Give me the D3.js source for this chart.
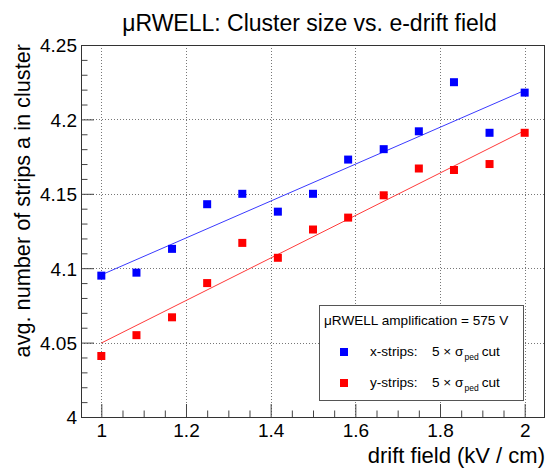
<!DOCTYPE html>
<html>
<head>
<meta charset="utf-8">
<script src="https://cdn.jsdelivr.net/npm/d3@7"></script>
<style>
  body { margin: 0; background: #fff; }
  text { font-family: "Liberation Sans", Arial, Helvetica, sans-serif; }
</style>
</head>
<body>
<svg id="chart" width="547" height="473"></svg>
<script>
// drift field values (kV / cm)
const driftField = [1, 1.083, 1.167, 1.25, 1.333, 1.417, 1.5, 1.583, 1.667, 1.75, 1.833, 1.917, 2];
// avg. cluster size, x-strips and y-strips
const xStrips = [4.095, 4.097, 4.113, 4.143, 4.150, 4.138, 4.150, 4.173, 4.180, 4.192, 4.225, 4.191, 4.218];
const yStrips = [4.041, 4.055, 4.067, 4.090, 4.117, 4.107, 4.126, 4.134, 4.149, 4.167, 4.166, 4.170, 4.191];
// linear fits, value at field = 1 and field = 2
const fitRange = [1, 2];
const xFit = [4.0955, 4.2195];
const yFit = [4.0497, 4.1925];

const xMajor = [1, 1.2, 1.4, 1.6, 1.8, 2];
const yMajor = [4, 4.05, 4.1, 4.15, 4.2, 4.25];

const svg = d3.select("#chart");

const frameL = 81, frameR = 545, frameT = 45, frameB = 417;

var x = d3.scaleLinear().domain([0.952, 2.048]).range([frameL, frameR]);
var y = d3.scaleLinear().domain([4, 4.25]).range([frameB, frameT]);

const xMinor = d3.range(0.95, 2.06, 0.05).map(d => Math.round(d * 100) / 100)
    .filter(d => d >= 0.952 && d <= 2.048 && !xMajor.includes(d));
const yMinor = d3.range(4, 4.251, 0.01).map(d => Math.round(d * 100) / 100)
    .filter(d => !yMajor.some(m => Math.abs(m - d) < 1e-6));

// grid
const grid = svg.append("g")
    .attr("stroke", "#777")
    .attr("stroke-width", 1)
    .attr("stroke-dasharray", "1,2");
grid.selectAll(".gx")
    .data(xMajor)
    .enter()
    .append("line")
        .attr("x1", d => Math.round(x(d)) + 0.5)
        .attr("x2", d => Math.round(x(d)) + 0.5)
        .attr("y1", frameT)
        .attr("y2", frameB);
grid.selectAll(".gy")
    .data(yMajor.filter(d => d > 4 && d < 4.25))
    .enter()
    .append("line")
        .attr("x1", frameL)
        .attr("x2", frameR)
        .attr("y1", d => Math.round(y(d)) + 0.5)
        .attr("y2", d => Math.round(y(d)) + 0.5);

// axes: major ticks inward with labels, minor ticks inward
svg.append("g")
    .attr("transform", `translate(${frameL},0)`)
    .call(d3.axisLeft(y).tickValues(yMajor).tickSize(-13).tickPadding(4)
        .tickFormat(d => String(+d.toFixed(2))))
    .call(g => g.select(".domain").remove())
    .call(g => g.selectAll("text").attr("font-size", 19).attr("fill", "#000")
        .attr("x", -4).attr("dy", "0.36em")
        .attr("font-family", "Liberation Sans, Arial, sans-serif"));
svg.append("g")
    .attr("transform", `translate(${frameL},0)`)
    .call(d3.axisLeft(y).tickValues(yMinor).tickSize(-6.5).tickFormat(""))
    .call(g => g.select(".domain").remove());

svg.append("g")
    .attr("transform", `translate(0,${frameB})`)
    .call(d3.axisBottom(x).tickValues(xMajor).tickSize(-13).tickPadding(7)
        .tickFormat(d => String(+d.toFixed(2))))
    .call(g => g.select(".domain").remove())
    .call(g => g.selectAll("text").attr("font-size", 19).attr("fill", "#000")
        .attr("y", 7)
        .attr("font-family", "Liberation Sans, Arial, sans-serif"));
svg.append("g")
    .attr("transform", `translate(0,${frameB})`)
    .call(d3.axisBottom(x).tickValues(xMinor).tickSize(-6.5).tickFormat(""))
    .call(g => g.select(".domain").remove());

svg.selectAll(".tick line").attr("stroke", "#444");

// frame
svg.append("rect")
    .attr("x", frameL + 0.5)
    .attr("y", frameT + 0.5)
    .attr("width", frameR - frameL - 1)
    .attr("height", frameB - frameT)
    .attr("fill", "none")
    .attr("stroke", "#333")
    .attr("stroke-width", 1);

// fit lines
const fits = [[xFit, "#3a3aff"], [yFit, "#ff3a3a"]];
fits.forEach(([f, col]) => {
    svg.append("line")
        .attr("x1", x(fitRange[0]))
        .attr("y1", y(f[0]))
        .attr("x2", x(fitRange[1]))
        .attr("y2", y(f[1]))
        .attr("stroke", col)
        .attr("stroke-width", 1);
});

// markers
const ms = 8;
const series = [[xStrips, "#0000ff"], [yStrips, "#ff0000"]];
series.forEach(([vals, col]) => {
    svg.append("g")
        .selectAll("rect")
        .data(vals)
        .enter()
        .append("rect")
            .attr("x", (d, i) => x(driftField[i]) - ms / 2)
            .attr("y", d => y(d) - ms / 2)
            .attr("width", ms)
            .attr("height", ms)
            .attr("fill", col);
});

// title
svg.append("text")
    .attr("x", 309.5)
    .attr("y", 31)
    .attr("text-anchor", "middle")
    .attr("font-size", 23)
    .text("\u03bcRWELL: Cluster size vs. e-drift field");

// axis titles
svg.append("text")
    .attr("x", frameR)
    .attr("y", 463)
    .attr("text-anchor", "end")
    .attr("font-size", 22)
    .text("drift field (kV / cm)");

svg.append("text")
    .attr("transform", `translate(29.5,${frameT - 1}) rotate(-90)`)
    .attr("text-anchor", "end")
    .attr("font-size", 21.7)
    .text("avg. number of strips a in cluster");

// legend
const legend = svg.append("g");
legend.append("rect")
    .attr("x", 319.5)
    .attr("y", 305.5)
    .attr("width", 204)
    .attr("height", 95)
    .attr("fill", "#fff")
    .attr("stroke", "#555")
    .attr("stroke-width", 1);
legend.append("text")
    .attr("x", 324)
    .attr("y", 325)
    .attr("font-size", 13.6)
    .text("\u03bcRWELL amplification = 575 V");

const legendRows = [["x-strips:", "#0000ff", 352], ["y-strips:", "#ff0000", 383]];
legendRows.forEach(([label, col, cy]) => {
    legend.append("rect")
        .attr("x", 344 - ms / 2)
        .attr("y", cy - ms / 2)
        .attr("width", ms)
        .attr("height", ms)
        .attr("fill", col);
    legend.append("text")
        .attr("x", 370)
        .attr("y", cy + 3.5)
        .attr("font-size", 13.6)
        .text(label);
    const t = legend.append("text")
        .attr("x", 432)
        .attr("y", cy + 3.5)
        .attr("font-size", 13.6);
    t.append("tspan").text("5 \u00d7 \u03c3");
    t.append("tspan").attr("dx", 1).attr("dy", 4).attr("font-size", 8.5).text("ped");
    t.append("tspan").attr("dy", -4).attr("dx", 3).text("cut");
});
</script>
</body>
</html>
